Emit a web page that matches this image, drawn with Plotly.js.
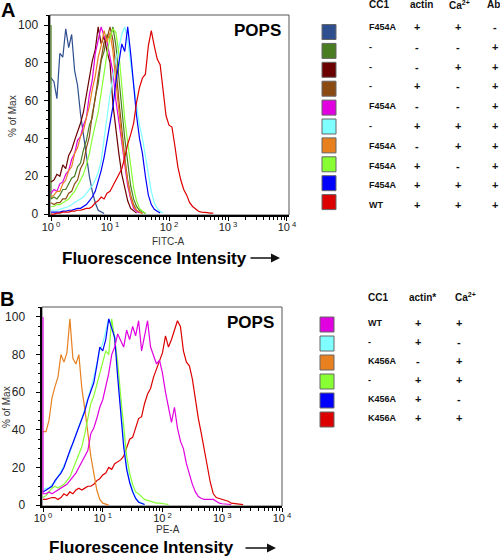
<!DOCTYPE html>
<html><head><meta charset="utf-8">
<script src="https://cdn.plot.ly/plotly-3.0.1.min.js"></script>
<style>html,body{margin:0;padding:0;background:#fff}#chart{width:500px;height:556px}</style>
</head><body><div id="chart"></div>
<script>
// histogram bin positions (fluorescence intensity), shared by both panels
const bins = [1,1.122,1.259,1.413,1.585,1.778,1.995,2.239,2.512,2.818,3.162,3.548,3.981,4.467,5.012,5.623,6.310,7.079,7.943,8.913,
  10,11.22,12.59,14.13,15.85,17.78,19.95,22.39,25.12,28.18,31.62,35.48,39.81,44.67,50.12,56.23,63.10,70.79,79.43,89.13,
  100,112.2,125.9,141.3,158.5,177.8,199.5,223.9,251.2,281.8,316.2,354.8,398.1,446.7,501.2,562.3,631.0,707.9,794.3,891.3,
  1000,1122,1259,1413,1585,1778,1995,2239];

// axis ticks
const decadeVals = [1,10,100,1000,10000];
const decadeText = ['10<sup> 0</sup>','10<sup> 1</sup>','10<sup> 2</sup>','10<sup> 3</sup>','10<sup> 4</sup>'];
const yTickVals = [0,20,40,60,80,100];

// ---------- Panel A (FITC-A), % of Max ----------
const colorsA = ['#2E4E8E','#4A7D22','#6B0000','#8B4A12','#E000E0','#7FFFFF','#E88020','#88FF33','#0000FF','#DD0000'];
const cc1A   = ['F454A','-','-','-','F454A','-','F454A','F454A','F454A','WT'];
const actinA = ['+','-','-','+','-','+','-','+','+','+'];
const caA    = ['+','-','+','-','-','+','+','-','+','+'];
const abA    = ['-','+','+','+','+','+','+','+','+','+'];
const pileA  = [null,100,null,null,null,null,null,null,null,null];

const a_slate   = [72,70,61,85,83,98,88,95,76,68,53,41,31,20,12,6,2,1,0.3];
const a_olive   = [8,9,8,10,13,13,16,19,20,25,27,34,39,47,51,62,69,81,86,95,93,99,89,74,56,40,26,15,8,4,2,1,0.3];
const a_maroon  = [17,18,21,20,26,24,31,34,39,43,48,54,63,74,81,87,99,90,94,86,80,58,44,32,21,13,7,3,1.5,0.5];
const a_brown   = [6,5,6,6,8,8,11,12,16,18,24,27,35,41,53,61,73,81,91,93,99,92,78,60,44,30,18,10,5,2,1,0.3];
const a_magenta = [11,13,12,16,17,21,23,29,32,39,41,47,51,63,71,85,92,99,94,91,83,75,60,50,38,26,15,8,3,1.5,0.5];
const a_cyan    = [2,2,2,2.5,3,3.5,4,5,6,7,8,9,11,13,15,18,22,28,40,53,63,73,82,88,95,99,92,80,68,57,47,40,30,20,12,6,3,1.5,0.5];
const a_orange  = [9,10,12,12,16,18,23,25,32,35,41,44,51,57,66,73,83,89,97,91,96,86,70,54,40,28,17,9,4,2,1,0.3];
const a_lime    = [4,4,5,5,6,7,8,10,12,15,18,21,26,32,40,47,54,64,75,85,93,98,96,85,68,50,38,25,14,7,3,1.5,0.5];
const a_blue    = [1,1,1,1,1.5,1.5,2,2,2.5,3,3,4,5,7,9,12,17,23,30,39,48,57,70,80,90,86,99,85,68,52,40,32,20,10,5,2.5,1.5,0.5];
const a_red     = [0,0,0.5,0.5,1,1,1,1.5,1.5,2,2,2.5,3,3,4,6,7,9,8,11,12,15,18,21,24,30,37,42,48,59,67,72,74,89,97,89,82,79,64,52,47,46,36,25,18,13,10,6,4,2.5,1.5,1,1,0.8,0.5,0.5];
const seriesA = [a_slate,a_olive,a_maroon,a_brown,a_magenta,a_cyan,a_orange,a_lime,a_blue,a_red];

// ---------- Panel B (PE-A), % of Max ----------
const colorsB = ['#E000E0','#7FFFFF','#E88020','#88FF33','#0000FF','#DD0000'];
const cc1B   = ['WT','-','K456A','-','K456A','K456A'];
const actinB = ['+','+','-','+','+','+'];
const caB    = ['+','-','+','+','-','+'];
const pileB  = [100,null,null,null,null,null];

const b_magenta = [6,6,7,6,7,8,9,10,11,13,15,17,20,23,26,29,38,41,46,52,56,63,70,80,84,91,87,84,93,88,95,90,98,82,90,98,84,80,75,77,70,60,52,44,52,41,34,30,22,16,11,7,4.5,3.5,3,3,3,3,2,1,0.7,0.5,0.4,0.3];
const b_cyan    = [8,9,9,11,12,15,18,21,24,28,33,38,42,46,51,57,62,68,76,82,86,92,99,96,90,72,53,34,21,13,8,4,2,1,0.4];
const b_orange  = [39,39,45,57,63,68,80,76,81,99,78,75,80,62,51,38,26,17,8,3,1,0.5,0];
const b_lime    = [4,5,7,9,10,9,10,11,13,15,19,23,26,31,38,47,54,58,64,70,76,82,80,99,88,76,58,40,26,17,11,7,6,4.5,3,2.5,2,1.5,1,1,0.7,0.5,0.3];
const b_blue    = [7,8,9,10,13,15,17,20,25,29,33,37,41,45,50,56,61,65,74,84,82,88,99,94,89,68,50,31,19,12,7,3.5,1.5,0.8,0.3];
const b_red     = [3,3,3.5,4,4,3,4,6,5,7,6,8,9,8,9,10,10,11,13,14,16,17,20,19,22,23,24,26,31,35,36,41,46,47,54,59,62,68,72,76,81,90,84,88,93,98,95,82,76,74,67,56,46,38,29,20,12,6,4,3.5,3,2.5,2,1,0.7,0.5,0.3,0.2];
const seriesB = [b_red,b_cyan,b_orange,b_lime,b_blue,b_magenta];
const orderB = [5,1,2,3,4,0];

// ---------- build ----------
const FONT = 'Liberation Sans, Arial, Helvetica, sans-serif';
const W = 500, H = 556;
const px = v => v / W, py = v => 1 - v / H;

function trace(vals, color, pile, xa, ya) {
  const x = bins.slice(0, vals.length);
  const y = vals.slice();
  if (pile !== null) { x.unshift(bins[0]); y.unshift(pile); }
  return {type:'scatter', mode:'lines', x:x, y:y, xaxis:xa, yaxis:ya,
          line:{color:color, width:1.2}, hoverinfo:'skip', showlegend:false};
}
const traces = [];
seriesA.forEach((s,i) => traces.push(trace(s, colorsA[i], pileA[i], 'x', 'y')));
seriesB.forEach((s,j) => { const i = orderB[j]; traces.push(trace(s, colorsB[i], pileB[i], 'x2', 'y2')); });

const minorVals = [];
for (let d = 1; d < 10000; d *= 10) for (let m = 2; m <= 9; m++) minorVals.push(d * m);

function xAxis(domain, range, anchor) {
  return {type:'log', domain:domain, range:range, anchor:anchor, showgrid:false, zeroline:false,
    showline:true, linewidth:2, linecolor:'#000', ticks:'outside', ticklen:4, tickwidth:1, tickcolor:'#000',
    tickmode:'array', tickvals:decadeVals, ticktext:decadeText, tickfont:{family:FONT, size:11, color:'#222'},
    ticklabelstandoff:-3,
    minor:{tickmode:'array', tickvals:minorVals, ticks:'outside', ticklen:3, tickwidth:1, tickcolor:'#000', showgrid:false}};
}
function yAxis(domain, anchor, standoff) {
  return {domain:domain, range:[-0.5,105.3], anchor:anchor, showgrid:false, zeroline:false,
    showline:true, linewidth:2.5, linecolor:'#000', ticks:'outside', ticklen:4, tickwidth:1, tickcolor:'#000',
    tickmode:'array', tickvals:yTickVals, tickfont:{family:FONT, size:12, color:'#222'}, ticklabelstandoff:standoff,
    minor:{dtick:5, ticks:'outside', ticklen:2, tickwidth:1, tickcolor:'#000', showgrid:false}};
}

const shapes = [];
const annotations = [];
function txt(text, x, y, o) {
  o = o || {};
  annotations.push({text:text, xref:'paper', yref:'paper', x:px(x), y:py(y), showarrow:false,
    xanchor:o.xa || 'center', yanchor:'middle', textangle:o.angle || 0,
    font:{family:FONT, size:o.size || 10, color:o.color || '#111'}});
}
function arrow(x0, x1, y) {
  annotations.push({text:'', xref:'paper', yref:'paper', x:px(x1), y:py(y), ax:x0 - x1, ay:0,
    showarrow:true, arrowhead:2, arrowsize:1.2, arrowwidth:1.5, arrowcolor:'#111'});
}

// plot frames
[['x','y'],['x2','y2']].forEach(([xa,ya]) => shapes.push({type:'rect', xref:xa+' domain', yref:ya+' domain',
  x0:0, x1:1, y0:0, y1:1, line:{color:'#555', width:1}, layer:'below'}));

// Panel A texts
txt('<b>A</b>', 8, 10, {size:20, color:'#000'});
txt('<b>POPS</b>', 257, 31, {size:17, color:'#000'});
txt('% of Max', 12, 116, {size:10, angle:-90, color:'#333'});
txt('FITC-A', 168, 242, {size:10, color:'#333'});
txt('<b>Fluorescence Intensity</b>', 154, 258, {size:17, color:'#000'});
arrow(249, 280, 258);
txt('<b>CC1</b>', 367, 5, {xa:'left'});
txt('<b>actin</b>', 408, 5, {xa:'left'});
txt('<b>Ca<sup>2+</sup></b>', 447, 5, {xa:'left'});
txt('<b>Ab</b>', 485, 5, {xa:'left'});
colorsA.forEach((c,i) => {
  const cy = 32 + 18.9 * i, ty = 27 + 19.8 * i;
  shapes.push({type:'rect', xref:'paper', yref:'paper', x0:px(322), x1:px(336), y0:py(cy+7.5), y1:py(cy-7.5),
    line:{color:'#666', width:1}, fillcolor:c});
  txt('<b>'+cc1A[i]+'</b>', 367, ty, {xa:'left', size:9});
  txt('<b>'+actinA[i]+'</b>', 417, ty, {size:11});
  txt('<b>'+caA[i]+'</b>', 458, ty, {size:11});
  txt('<b>'+abA[i]+'</b>', 495, ty, {size:11});
});

// Panel B texts
txt('<b>B</b>', 7, 299, {size:20, color:'#000'});
txt('<b>POPS</b>', 250, 322, {size:17, color:'#000'});
txt('% of Max', 6, 407, {size:10, angle:-90, color:'#333'});
txt('PE-A', 168, 529, {size:10, color:'#333'});
txt('<b>Fluorescence Intensity</b>', 141, 547, {size:17, color:'#000'});
arrow(244, 276, 548);
txt('<b>CC1</b>', 366, 297, {xa:'left'});
txt('<b>actin*</b>', 407, 297, {xa:'left'});
txt('<b>Ca<sup>2+</sup></b>', 453, 297, {xa:'left'});
colorsB.forEach((c,i) => {
  const cy = 324.5 + 19 * i, ty = 323 + 19 * i;
  shapes.push({type:'rect', xref:'paper', yref:'paper', x0:px(320), x1:px(334), y0:py(cy+7.5), y1:py(cy-7.5),
    line:{color:'#666', width:1}, fillcolor:c});
  txt('<b>'+cc1B[i]+'</b>', 366, ty, {xa:'left', size:9});
  txt('<b>'+actinB[i]+'</b>', 418, ty, {size:11});
  txt('<b>'+caB[i]+'</b>', 459, ty, {size:11});
});

const layout = {
  width:W, height:H, margin:{l:0, r:0, t:0, b:0}, paper_bgcolor:'#fff', plot_bgcolor:'#fff',
  showlegend:false, font:{family:FONT},
  xaxis: xAxis([50/W, 289/W], [-0.017, 4.034], 'y'),
  yaxis: yAxis([py(215), py(15)], 'x', 3),
  xaxis2: xAxis([42/W, 282/W], [-0.017, 4.0], 'y2'),
  yaxis2: yAxis([py(506), py(307)], 'x2', 8),
  shapes: shapes, annotations: annotations
};
Plotly.newPlot('chart', traces, layout, {displayModeBar:false, staticPlot:true});
</script></body></html>
